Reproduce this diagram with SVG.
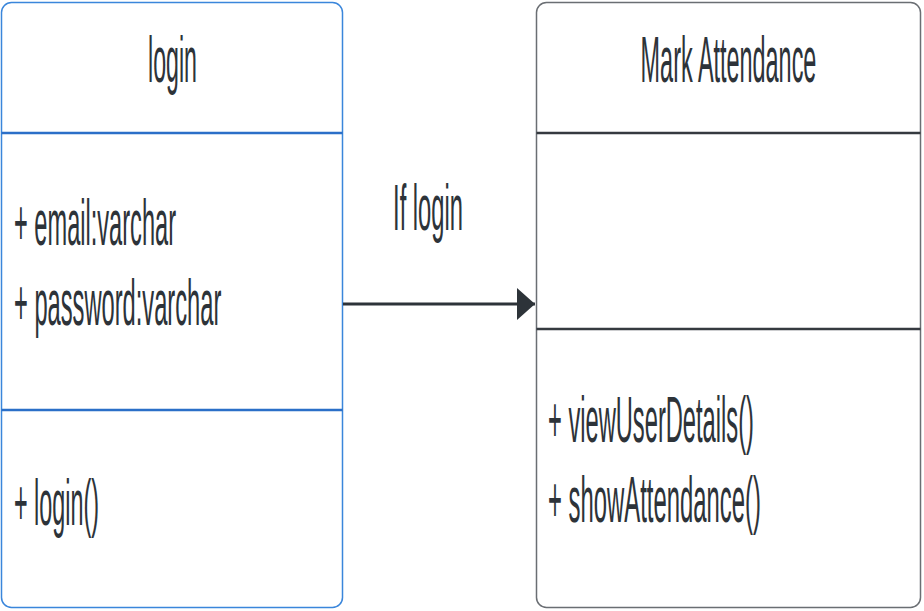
<svg xmlns="http://www.w3.org/2000/svg" width="924" height="611" viewBox="0 0 924 611">
<style>
  .t { font-family: "Liberation Sans", Arial, sans-serif; font-size: 64px; fill: #2d3339; }
  .mid { text-anchor: middle; }
  .boxL { fill: #ffffff; stroke: #3a86db; stroke-width: 1.5; }
  .divL { stroke: #2b6fc8; stroke-width: 2.5; }
  .boxR { fill: #ffffff; stroke: #6a6e73; stroke-width: 1.5; }
  .divR { stroke: #353a40; stroke-width: 2.5; }
  .edge { stroke: #2d3339; stroke-width: 3; fill: none; }
</style>
<defs>
  <marker id="arrow" markerUnits="userSpaceOnUse" markerWidth="20" markerHeight="34" refX="18" refY="17" orient="auto">
    <polygon points="0,1 18,17 0,33" fill="#2d3339"/>
  </marker>
</defs>
<rect width="924" height="611" fill="#ffffff"/>
<g id="node-login">
  <rect class="boxL" x="1.5" y="2.5" width="341" height="605" rx="10"/>
  <line class="divL" x1="1.5" y1="133" x2="342.5" y2="133"/>
  <line class="divL" x1="1.5" y1="410" x2="342.5" y2="410"/>
  <text class="t mid" transform="translate(172.5,82) scale(0.362,1)">login</text>
  <text class="t" transform="translate(14,245) scale(0.369,1)">+ email:varchar</text>
  <text class="t" transform="translate(14,325) scale(0.370,1)">+ password:varchar</text>
  <text class="t" transform="translate(14,525) scale(0.365,1)">+ login()</text>
</g>
<g id="node-mark-attendance">
  <rect class="boxR" x="536.5" y="2.5" width="384" height="605" rx="10"/>
  <line class="divR" x1="536.5" y1="133" x2="920.5" y2="133"/>
  <line class="divR" x1="536.5" y1="329" x2="920.5" y2="329"/>
  <text class="t mid" transform="translate(728.5,82) scale(0.366,1)">Mark Attendance</text>
  <text class="t" transform="translate(548,442) scale(0.370,1)">+ viewUserDetails()</text>
  <text class="t" transform="translate(548,522) scale(0.373,1)">+ showAttendance()</text>
</g>
<g id="connectors">
  <line class="edge" x1="343" y1="304" x2="535" y2="304" marker-end="url(#arrow)"/>
  <text class="t mid" transform="translate(428,230) scale(0.371,1)">If login</text>
</g>
</svg>
